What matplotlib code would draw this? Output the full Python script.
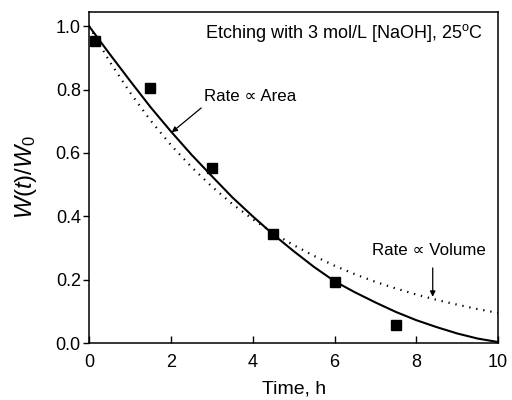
import matplotlib
matplotlib.use('Agg')
import matplotlib.pyplot as plt

# Measured points
time_meas = [0.15, 1.5, 3.0, 4.5, 6.0, 7.5]
w_meas = [0.955, 0.805, 0.553, 0.343, 0.194, 0.058]

# Model curves (every 0.5 h)
time_model = [0, 0.5, 1, 1.5, 2, 2.5, 3, 3.5, 4, 4.5, 5,
              5.5, 6, 6.5, 7, 7.5, 8, 8.5, 9, 9.5, 10]
w_area = [1.0, 0.913, 0.828, 0.745, 0.668, 0.595, 0.527, 0.46, 0.40, 0.343, 0.29,
          0.24, 0.195, 0.16, 0.128, 0.098, 0.072, 0.05, 0.03, 0.014, 0.003]
w_volume = [1.0, 0.889, 0.791, 0.703, 0.625, 0.556, 0.494, 0.439, 0.391, 0.347, 0.309,
            0.275, 0.244, 0.217, 0.193, 0.172, 0.153, 0.136, 0.121, 0.107, 0.095]

plt.rcParams['font.family'] = ['Liberation Sans', 'DejaVu Sans']
plt.rcParams['mathtext.fontset'] = 'custom'
plt.rcParams['mathtext.rm'] = 'Liberation Sans'
plt.rcParams['mathtext.it'] = 'Liberation Sans:italic'

fig = plt.figure(figsize=(5.12, 4.0), dpi=100)
ax = fig.add_axes([0.174, 0.1425, 0.799, 0.8275])

ax.plot(time_model, w_area, color='black', linewidth=1.5)
ax.plot(time_model, w_volume, color='black', linewidth=1.6, linestyle=(0, (0.6, 2.6)))
ax.plot(time_meas, w_meas, linestyle='none', marker='s', markersize=7.5,
        color='black', zorder=5)

ax.set_xlim(0, 10)
ax.set_ylim(0, 1.045)
ax.set_xticks([0, 2, 4, 6, 8, 10])
ax.set_yticks([0.0, 0.2, 0.4, 0.6, 0.8, 1.0])
ax.set_yticklabels(['0.0', '0.2', '0.4', '0.6', '0.8', '1.0'])

for s in ax.spines.values():
    s.set_linewidth(1.1)
ax.tick_params(axis='x', direction='in', length=5, width=1.0, labelsize=13, pad=8)
ax.tick_params(axis='y', direction='out', length=4, width=1.0, labelsize=13, pad=2)

ax.set_xlabel('Time, h', fontsize=14, labelpad=7)
ax.set_ylabel(r'$W$($t$)/$W_{\rm 0}$', fontsize=17, labelpad=12)

ax.text(9.63, 0.978, r'Etching with 3 mol/L [NaOH], 25$^{\rm o}$C',
        ha='right', va='center', fontsize=13)

ax.text(2.81, 0.779, 'Rate \u221d Area', ha='left', va='center', fontsize=12.2)
ax.annotate('', xy=(2.02, 0.665), xytext=(2.74, 0.742),
            arrowprops=dict(arrowstyle='-|>', color='black', lw=0.9,
                            mutation_scale=8, shrinkA=0, shrinkB=0))

ax.text(6.91, 0.293, 'Rate \u221d Volume', ha='left', va='center', fontsize=12.2)
ax.annotate('', xy=(8.40, 0.146), xytext=(8.40, 0.237),
            arrowprops=dict(arrowstyle='-|>', color='black', lw=0.9,
                            mutation_scale=8, shrinkA=0, shrinkB=0))

fig.savefig('out.png', dpi=100)
